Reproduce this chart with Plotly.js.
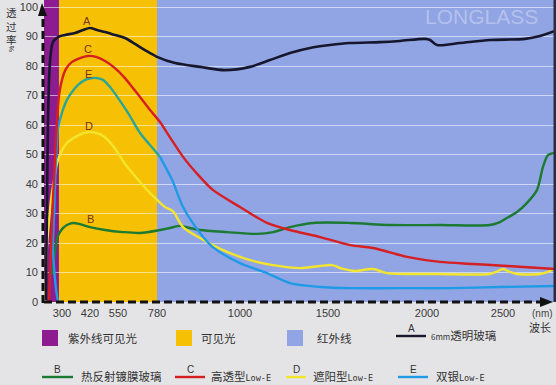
<!DOCTYPE html>
<html><head><meta charset="utf-8">
<script src="https://cdn.plot.ly/plotly-3.0.1.min.js"></script>
<style>html,body{margin:0;padding:0;background:#e4e4e6;}#c{width:556px;height:385px;}</style>
</head><body><div id="c"></div>
<script>
// ---- axis labels (wavelength, nm) ----
const tickWl = [300, 420, 550, 780, 1000, 1500, 2000, 2500];
const tickLabels = ['300', '420', '550', '780', '1000', '1500', '2000', '2500'];
const yTicks = [0,10,20,30,40,50,60,70,80,90,100];

// ---- spectral bands (nm) ----
const bandNames = ['紫外线可见光', '可见光', '红外线'];
const bandStart = [223, 287, 780];
const bandEnd   = [287, 780, 2842];

// ---- series: wavelength (nm) / transmittance (%) ----
const aWl = [231,236,240,249,261,283,313,356,390,420,453,490,536,591,650,709,780,828,894,960,1057,1170,1284,1398,1510,1611,1763,1864,1990,2020,2066,2217,2414,2645,2743,2842];
const aVal = [0.7,34.6,61.7,82,88.1,89.8,90.5,91.2,92.2,92.9,92.2,91.5,90.5,89.5,87.5,85.4,83.1,81.0,79.7,78.6,79.7,82,84.4,86.1,87.1,87.8,88.1,88.5,89.2,88.8,87.1,87.8,88.8,89.2,90.2,91.9];

const bWl = [257,266,274,283,300,321,347,377,420,490,579,680,788,814,841,867,894,966,1097,1188,1284,1415,1611,1813,2086,2414,2480,2526,2592,2658,2724,2763,2796,2842];
const bVal = [9.2,14.9,19.3,22.4,24.7,26.1,26.8,26.4,25.4,24.4,23.7,23.4,24.4,25.1,25.8,25.1,24.4,23.7,23.1,23.7,25.4,26.8,26.8,26.1,26.1,26.1,27.1,28.5,30.5,33.6,38,45.8,49.8,50.5];

const cWl = [244,253,261,270,279,287,300,317,343,377,411,448,490,536,591,639,680,739,788,814,849,889,928,1000,1153,1284,1455,1611,1727,1899,2086,2303,2526,2842];
const cVal = [0,17.6,34.6,48.1,61.7,69.8,75.3,79,81.4,82.7,83.4,83.1,81.7,79.3,75.9,72.5,69.5,65.1,61,55.9,49.2,43.1,38,32.2,26.8,24.4,22.0,19.3,18.3,15.3,13.6,12.9,12.2,11.2];

const dWl = [227,231,236,244,253,266,279,296,321,356,394,429,466,504,541,597,680,739,780,801,822,849,894,955,1057,1188,1341,1455,1520,1576,1636,1727,1798,2086,2414,2454,2500,2546,2592,2743,2796,2842];
const dVal = [0,9.2,19.3,27.1,34.6,41.4,47.1,50.8,53.9,55.9,57.3,57.6,56.9,54.9,51.5,46.4,40.7,36.9,34.6,32.2,30.8,25.4,21.7,17.6,14.2,12.5,11.5,12.2,12.5,11.2,10.5,11.2,9.8,9.5,9.5,10.2,11.2,10.2,9.5,9.5,10.2,11.5];

const eWl = [283,274,266,261,266,270,274,279,283,291,304,321,343,369,399,429,453,480,513,550,609,680,739,788,820,849,894,928,1000,1153,1284,1455,1611,1864,2151,2480,2842];
const eVal = [0,4.7,11.5,19.3,29.5,39.7,48.1,54.9,59,61.7,65.1,68.5,71.2,73.6,75.3,75.9,75.9,75.3,72.9,69.2,64.1,57.3,53.2,49.2,41.4,32.2,23.4,18.6,13.2,9.8,6.4,5.1,4.7,4.7,4.7,5.1,5.4];

const seriesNames = ['6mm透明玻璃', '热反射镀膜玻璃', '高透型Low-E', '遮阳型Low-E', '双银Low-E'];
const seriesKeys = ['A','B','C','D','E'];

// ---- non-uniform wavelength scale (piecewise between the printed ticks) ----
const tickPx = [62, 90, 118, 157, 240, 328, 427, 503];
function pos(w){
  const a = tickWl, p = tickPx; let i = 0;
  if (w <= a[0]) i = 0;
  else if (w >= a[a.length-1]) i = a.length-2;
  else { while (w > a[i+1]) i++; }
  return p[i] + (w - a[i]) * (p[i+1] - p[i]) / (a[i+1] - a[i]);
}

// pixel -> paper helpers (plot area 44..555 x, 0..302 y)
const L = 44, R = 555, T = 0, B = 302;
const X = px => (px - L) / (R - L);
const Y = py => (B - py) / (B - T);

const col = {A:'#16162c', B:'#1c7a32', C:'#d51f22', D:'#f3e52c', E:'#1f9be6', Et:'#2aa698'};
const bandCol = ['#8c1c90', '#f6c104', '#91a5e4'];

function line(wl, v, color, w){
  return {type:'scatter', mode:'lines', x: wl.map(pos), y: v, hoverinfo:'skip',
          line:{color:color, width:w||2.4, shape:'spline', smoothing:0.8}, showlegend:false};
}
const traces = [
  line(bWl, bVal, col.B),
  line(dWl, dVal, col.D),
  line(eWl.slice(0,10), eVal.slice(0,10), col.E),
  line(eWl.slice(23), eVal.slice(23), col.E),
  line(eWl.slice(9,24), eVal.slice(9,24), col.Et),
  line(cWl, cVal, col.C),
  line(aWl, aVal, col.A, 2.6)
];

const shapes = [];
for (let i = 0; i < bandStart.length; i++) {
  shapes.push({type:'rect', xref:'x', yref:'paper', x0:pos(bandStart[i]), x1:pos(bandEnd[i]), y0:0, y1:1,
    fillcolor:bandCol[i], line:{width:0}, layer:'below'});
}
// right photo edge
shapes.push({type:'rect', xref:'paper', yref:'paper', x0:X(553.5), x1:X(556), y0:0, y1:1, fillcolor:'#2a2c40', line:{width:0}, layer:'above'});
// dashed axes with arrows
shapes.push({type:'line', xref:'paper', yref:'paper', x0:X(44), x1:X(544), y0:Y(302), y1:Y(302), line:{color:'#111', width:3, dash:'8px,4px'}});
shapes.push({type:'path', xref:'paper', yref:'paper', path:`M ${X(540)} ${Y(297)} L ${X(553)} ${Y(302)} L ${X(540)} ${Y(307)} Z`, fillcolor:'#111', line:{width:0}});
shapes.push({type:'line', xref:'paper', yref:'paper', x0:X(43), x1:X(43), y0:Y(303), y1:Y(12), line:{color:'#111', width:3, dash:'8px,4px'}});
shapes.push({type:'path', xref:'paper', yref:'paper', path:`M ${X(38)} ${Y(16)} L ${X(42)} ${Y(3)} L ${X(47)} ${Y(16)} Z`, fillcolor:'#111', line:{width:0}});

const annotations = [];
function ann(px, py, text, o){
  o = o || {};
  annotations.push(Object.assign({xref:'paper', yref:'paper', x:X(px), y:Y(py), text:text, showarrow:false,
    xanchor:'left', yanchor:'middle', borderpad:0,
    font:{family:'Noto Sans CJK SC, sans-serif', size:12, color:'#333'}}, o));
}
// legend row 1: bands
const sqX = [42, 176, 287];
const txX = [67, 200, 316];
for (let i = 0; i < 3; i++) {
  shapes.push({type:'rect', xref:'paper', yref:'paper', x0:X(sqX[i]), x1:X(sqX[i]+16), y0:Y(346), y1:Y(330),
    fillcolor:bandCol[i], line:{width:0}});
  ann(txX[i], 338, bandNames[i], {font:{family:'Noto Sans CJK SC, sans-serif', size:11.5, color:'#333'}});
}
// legend: series lines
const lgX = [396, 42, 175, 286, 398];
const lgW = [30, 31, 30, 20, 30];
const lgY = [336, 377, 377, 377, 377];
const lgTx = [430, 80, 210, 312, 435];
const small = s => s.replace('6mm', '<span style="font-size:8px;">6mm</span>').replace('Low-E', '<span style="font-size:8.5px;font-family:DejaVu Sans Mono;">Low-E</span>');
for (let i = 0; i < 5; i++) {
  const k = seriesKeys[i];
  shapes.push({type:'line', xref:'paper', yref:'paper', x0:X(lgX[i]), x1:X(lgX[i]+lgW[i]), y0:Y(lgY[i]), y1:Y(lgY[i]),
    line:{color: k === 'E' ? col.E : col[k], width:2.4}});
  ann(lgX[i] + lgW[i]/2, lgY[i]-8, k, {xanchor:'center', font:{family:'Liberation Sans, sans-serif', size:10, color:'#333'}});
  ann(lgTx[i], lgY[i]-1, small(seriesNames[i]), {font:{family:'Noto Sans CJK SC, sans-serif', size:11.5, color:'#333'}});
}
ann(528, 327, '波长', {font:{family:'Noto Sans CJK SC, sans-serif', size:11, color:'#333'}});
ann(531, 313, '(nm)', {font:{family:'Liberation Sans, sans-serif', size:10, color:'#444'}});
// y title (vertical, upright characters)
ann(11, 26, '透<br>过<br>率', {xanchor:'center', font:{family:'Noto Sans CJK SC, sans-serif', size:10.5, color:'#333'}});
ann(11, 49, '%', {xanchor:'center', textangle:-90, font:{family:'Liberation Sans, sans-serif', size:7, color:'#333'}});
// curve labels
const lblPx = [[87,21],[90,219],[88,49],[89,126],[88,74]];
for (let i = 0; i < 5; i++) {
  ann(lblPx[i][0], lblPx[i][1], seriesKeys[i], {xanchor:'center', font:{family:'Liberation Sans, sans-serif', size:11, color:'#7a3418'}});
}
// watermark
ann(481, 17, 'LONGLASS', {xanchor:'center', font:{family:'Liberation Sans, sans-serif', size:21, color:'rgba(255,255,255,0.32)'}});

const layout = {
  width:556, height:385,
  margin:{l:L, r:556-R, t:T, b:385-B},
  paper_bgcolor:'#e4e4e6', plot_bgcolor:'#91a5e4',
  showlegend:false,
  xaxis:{range:[L, R], tickvals: tickWl.map(pos), ticktext: tickLabels, showgrid:false, zeroline:false,
         showline:false, ticks:'', ticklabelstandoff:3,
         tickfont:{family:'Liberation Sans, sans-serif', size:11, color:'#3a3a3a'}, fixedrange:true},
  yaxis:{range:[0, 302/2.95], tickvals: yTicks, showgrid:true, gridcolor:'rgba(255,255,255,0.55)', gridwidth:1,
         zeroline:false, showline:false, ticks:'', ticklabelstandoff:5,
         tickfont:{family:'Liberation Sans, sans-serif', size:11, color:'#3a3a3a'}, fixedrange:true},
  shapes: shapes, annotations: annotations
};
Plotly.newPlot('c', traces, layout, {displayModeBar:false, staticPlot:true});
</script></body></html>
